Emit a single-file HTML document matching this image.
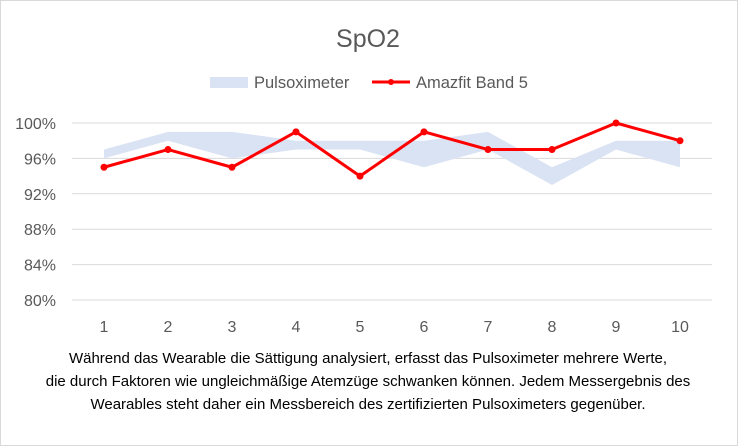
<!DOCTYPE html>
<html><head><meta charset="utf-8"><style>
html,body{margin:0;padding:0;background:#fff;}
svg{display:block;font-family:"Liberation Sans",sans-serif;}
</style></head><body>
<svg id="chart" width="738" height="446" viewBox="0 0 738 446">
<rect x="0.5" y="0.5" width="737" height="445" fill="#fff" stroke="#d9d9d9"/>
<text x="368" y="47" text-anchor="middle" font-size="25" fill="#595959">SpO2</text>
<g>
<rect x="210" y="77" width="38" height="11" fill="#dae3f3"/>
<text x="254" y="88" font-size="16.5" fill="#595959">Pulsoximeter</text>
<line x1="372" y1="82" x2="410" y2="82" stroke="#f00" stroke-width="3"/>
<circle cx="391" cy="82" r="3" fill="#f00"/>
<text x="416" y="88" font-size="16.5" fill="#595959">Amazfit Band 5</text>
</g>
<g id="grid"></g><g id="band"></g><g id="line"></g><g id="xlab"></g>
<g font-size="15" fill="#000" text-anchor="middle">
<text x="368" y="363">Während das Wearable die Sättigung analysiert, erfasst das Pulsoximeter mehrere Werte,</text>
<text x="368" y="386">die durch Faktoren wie ungleichmäßige Atemzüge schwanken können. Jedem Messergebnis des</text>
<text x="368" y="409">Wearables steht daher ein Messbereich des zertifizierten Pulsoximeters gegenüber.</text>
</g>
</svg>
<script>
const categories=["1","2","3","4","5","6","7","8","9","10"];
const amazfit=[95,97,95,99,94,99,97,97,100,98];
const pulsLow=[96,98,96,97,97,95,97,93,97,95];
const pulsHigh=[97,99,99,98,98,98,99,95,98,98];
const yTicks=[80,84,88,92,96,100];
const NS="http://www.w3.org/2000/svg";
const L=72,W=640,T=123,B=300;
const x=i=>L+W/categories.length*(i+0.5);
const y=v=>B-(v-80)/20*(B-T);
function mk(tag,attrs,parent){const e=document.createElementNS(NS,tag);for(const k in attrs)e.setAttribute(k,attrs[k]);document.getElementById(parent).appendChild(e);return e;}
yTicks.forEach(v=>{
 const g=mk("line",{x1:L,x2:L+W,y1:y(v),y2:y(v),stroke:"#d9d9d9","stroke-width":1},"grid");
 
 
 const t=mk("text",{x:56,y:y(v)+6,"text-anchor":"end","font-size":16,fill:"#595959"},"grid");
 t.textContent=v+"%";
 
 
});
let pts=pulsHigh.map((v,i)=>x(i)+","+y(v));
pts=pts.concat(pulsLow.map((v,i)=>x(i)+","+y(v)).reverse());
const band=mk("polygon",{points:pts.join(" "),fill:"#dae3f3"},"band");


const pl=mk("polyline",{points:amazfit.map((v,i)=>x(i)+","+y(v)).join(" "),fill:"none",stroke:"#f00","stroke-width":3,"stroke-linejoin":"round"},"line");


amazfit.forEach((v,i)=>{
 const c=mk("circle",{cx:x(i),cy:y(v),r:3.5,fill:"#f00"},"line");
 
 
});
categories.forEach((c,i)=>{
 const t=mk("text",{x:x(i),y:332,"text-anchor":"middle","font-size":16,fill:"#595959"},"xlab");
 t.textContent=c;
 
 
});
</script>
</body></html>
